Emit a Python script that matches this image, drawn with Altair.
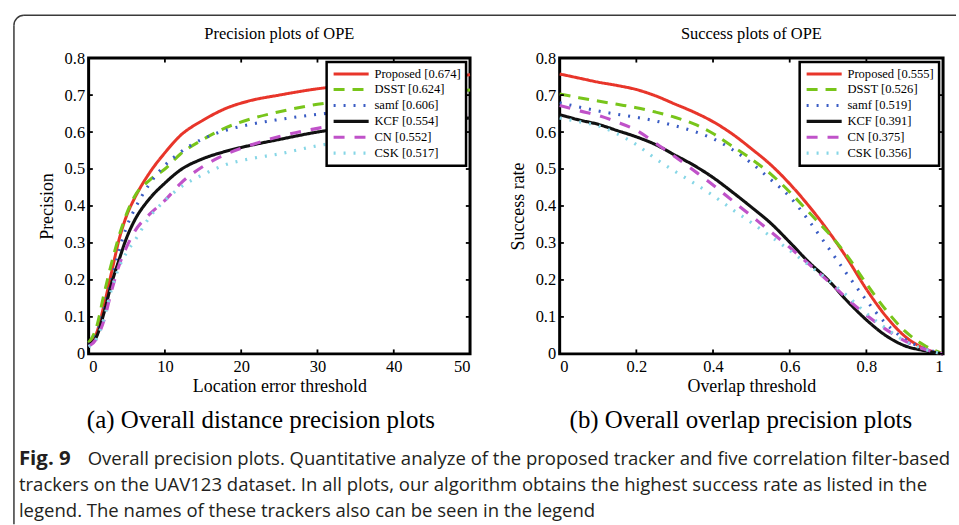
import math
import altair as alt
import pandas as pd

# ---------------- data ----------------
trackers = ["Proposed", "DSST", "samf", "KCF", "CN", "CSK"]
prec_scores = ["0.674", "0.624", "0.606", "0.554", "0.552", "0.517"]
succ_scores = ["0.555", "0.526", "0.519", "0.391", "0.375", "0.356"]

prec_x = [0, 1, 2, 3, 4, 5, 6, 8, 10, 12, 15, 18, 21, 25, 30, 35, 40, 45, 50]
prec_proposed = [0.03, 0.055, 0.13, 0.22, 0.31, 0.375, 0.42, 0.49, 0.544, 0.59, 0.632, 0.664, 0.684, 0.70, 0.717, 0.728, 0.738, 0.747, 0.755]
prec_dsst = [0.03, 0.07, 0.16, 0.245, 0.32, 0.38, 0.425, 0.47, 0.50, 0.54, 0.58, 0.612, 0.634, 0.655, 0.675, 0.688, 0.698, 0.706, 0.714]
prec_samf = [0.025, 0.05, 0.12, 0.20, 0.28, 0.345, 0.39, 0.46, 0.51, 0.545, 0.582, 0.605, 0.62, 0.634, 0.648, 0.657, 0.663, 0.668, 0.672]
prec_kcf = [0.025, 0.045, 0.11, 0.19, 0.255, 0.315, 0.36, 0.42, 0.462, 0.497, 0.528, 0.548, 0.563, 0.58, 0.60, 0.614, 0.624, 0.632, 0.638]
prec_cn = [0.02, 0.04, 0.09, 0.17, 0.24, 0.29, 0.33, 0.378, 0.415, 0.46, 0.507, 0.54, 0.563, 0.588, 0.61, 0.625, 0.635, 0.642, 0.648]
prec_csk = [0.02, 0.04, 0.095, 0.175, 0.235, 0.275, 0.305, 0.37, 0.415, 0.45, 0.485, 0.512, 0.527, 0.541, 0.563, 0.578, 0.588, 0.595, 0.60]

succ_x = [0, 0.05, 0.1, 0.15, 0.2, 0.25, 0.3, 0.35, 0.4, 0.45, 0.5, 0.55, 0.6, 0.65, 0.7, 0.75, 0.8, 0.85, 0.9, 0.95, 1.0]
succ_proposed = [0.757, 0.746, 0.735, 0.726, 0.715, 0.698, 0.676, 0.654, 0.628, 0.595, 0.555, 0.512, 0.46, 0.40, 0.333, 0.258, 0.175, 0.103, 0.048, 0.015, 0.0]
succ_dsst = [0.703, 0.693, 0.684, 0.675, 0.666, 0.654, 0.64, 0.622, 0.596, 0.562, 0.527, 0.487, 0.438, 0.383, 0.328, 0.265, 0.19, 0.12, 0.062, 0.024, 0.0]
succ_samf = [0.679, 0.668, 0.657, 0.648, 0.64, 0.63, 0.617, 0.602, 0.582, 0.553, 0.516, 0.472, 0.425, 0.36, 0.288, 0.215, 0.145, 0.083, 0.04, 0.015, 0.0]
succ_kcf = [0.647, 0.633, 0.621, 0.604, 0.587, 0.566, 0.538, 0.51, 0.477, 0.438, 0.397, 0.354, 0.302, 0.248, 0.20, 0.143, 0.092, 0.05, 0.022, 0.009, 0.0]
succ_cn = [0.672, 0.658, 0.645, 0.627, 0.605, 0.57, 0.534, 0.496, 0.457, 0.415, 0.373, 0.331, 0.288, 0.243, 0.197, 0.149, 0.105, 0.067, 0.035, 0.013, 0.0]
succ_csk = [0.638, 0.628, 0.617, 0.595, 0.566, 0.528, 0.494, 0.462, 0.428, 0.391, 0.355, 0.318, 0.28, 0.24, 0.20, 0.157, 0.11, 0.07, 0.035, 0.013, 0.0]

prec_xticks = [0, 10, 20, 30, 40, 50]
succ_xticks = [0, 0.2, 0.4, 0.6, 0.8, 1]
yticks = [0, 0.1, 0.2, 0.3, 0.4, 0.5, 0.6, 0.7, 0.8]

titles = ["Precision plots of OPE", "Success plots of OPE"]
xtitles = ["Location error threshold", "Overlap threshold"]
ytitles = ["Precision", "Success rate"]
sub_captions = ["(a) Overall distance precision plots", "(b) Overall overlap precision plots"]
caption_bold = "Fig. 9"
caption_lines = [
    "Overall precision plots. Quantitative analyze of the proposed tracker and five correlation filter-based",
    "trackers on the UAV123 dataset. In all plots, our algorithm obtains the highest success rate as listed in the",
    "legend. The names of these trackers also can be seen in the legend",
]

# ---------------- styles ----------------
colors = ["#e8352a", "#78c51a", "#3a5cc4", "#111111", "#c052c9", "#86d6e6"]
dashes = [[1, 0], [11, 8], [2, 8], [1, 0], [11, 10], [2, 8]]
widths = [3.0, 3.2, 2.4, 3.0, 3.4, 2.2]
SERIF = "Liberation Serif"
SANS = "Open Sans"
W1, W2, H = 383, 385, 297


def long_df(xs, series_list, labels):
    rows = []
    for lab, ys in zip(labels, series_list):
        for xv, yv in zip(xs, ys):
            rows.append({"x": xv, "y": yv, "series": lab})
    return pd.DataFrame(rows)


def panel(xs, series_list, scores, xdom, xticks, xfmt, xtitle, ytitle, title, width, tick_x):
    labels = [f"{t} [{s}]" for t, s in zip(trackers, scores)]
    df = long_df(xs, series_list, labels)
    xscale = alt.Scale(domain=xdom, nice=False, zero=False)
    yscale = alt.Scale(domain=[0, 0.8], nice=False)
    xaxis = alt.Axis(values=xticks, format=xfmt, title=xtitle, labelPadding=5, titlePadding=2,
                     labelOverlap=False, tickCount=len(xticks))
    yaxis = alt.Axis(values=yticks, format="~g", title=ytitle, labelPadding=4, titlePadding=8,
                     labelOverlap=False, tickCount=len(yticks))
    X = lambda: alt.X("x:Q", scale=xscale, axis=xaxis)
    Y = lambda: alt.Y("y:Q", scale=yscale, axis=yaxis)
    lines = alt.Chart(df).mark_line(interpolate="monotone").encode(
        x=X(), y=Y(),
        color=alt.Color("series:N", scale=alt.Scale(domain=labels, range=colors), legend=alt.Legend(title=None)),
        strokeDash=alt.StrokeDash("series:N", scale=alt.Scale(domain=labels, range=dashes), legend=alt.Legend(title=None)),
        strokeWidth=alt.StrokeWidth("series:N", scale=alt.Scale(domain=labels, range=widths), legend=alt.Legend(title=None)),
    )
    ydf = pd.DataFrame({"y": yticks})
    xdf = pd.DataFrame({"x": xticks})
    tk = dict(color="black", strokeWidth=1.8)
    t_left = alt.Chart(ydf).mark_rule(**tk).encode(y=Y(), x=alt.datum(xdom[0]), x2=alt.datum(xdom[0] + tick_x))
    t_right = alt.Chart(ydf).mark_rule(**tk).encode(y=Y(), x=alt.datum(xdom[1]), x2=alt.datum(xdom[1] - tick_x))
    t_bot = alt.Chart(xdf).mark_rule(**tk).encode(x=X(), y=alt.datum(0), y2=alt.datum(0.012))
    t_top = alt.Chart(xdf).mark_rule(**tk).encode(x=X(), y=alt.datum(0.8), y2=alt.datum(0.788))
    return alt.layer(lines, t_left, t_right, t_bot, t_top).properties(
        width=width, height=H, title=alt.TitleParams(text=title, frame="group"))


# ---------- decoration column (1 px wide, origin 91 px left of the left plot area) ----------
one = pd.DataFrame({"k": [0]})
FRAME = "#3a3a3a"
frame_left = alt.Chart(one).mark_rule(color=FRAME, strokeWidth=1.5).encode(
    x=alt.value(16), y=alt.value(-33), y2=alt.value(468))
frame_top = alt.Chart(one).mark_rule(color=FRAME, strokeWidth=1.5).encode(
    x=alt.value(26), x2=alt.value(962), y=alt.value(-43))
frame_arc = alt.Chart(one).mark_arc(color=FRAME, radius=10.75, radius2=9.25,
                                    theta=3 * math.pi / 2, theta2=2 * math.pi).encode(
    x=alt.value(26), y=alt.value(-33))
sub_style = dict(font=SERIF, fontSize=25, align="center", baseline="middle", color="black")
sub_a = alt.Chart(one).mark_text(text=sub_captions[0], **sub_style).encode(x=alt.value(264), y=alt.value(363))
sub_b = alt.Chart(one).mark_text(text=sub_captions[1], **sub_style).encode(x=alt.value(746), y=alt.value(363))
cap_style = dict(font=SANS, fontSize=18.6, align="left", baseline="middle", color="#231f20")
cap_bold = alt.Chart(one).mark_text(text=caption_bold, fontWeight="bold", font=SANS, fontSize=20.5,
                                    align="left", baseline="middle", color="#231f20").encode(
    x=alt.value(21), y=alt.value(403))
cap1 = alt.Chart(one).mark_text(text=caption_lines[0], **cap_style).encode(x=alt.value(90), y=alt.value(403))
cap2 = alt.Chart(one).mark_text(text=caption_lines[1], **cap_style).encode(x=alt.value(21), y=alt.value(429))
cap3 = alt.Chart(one).mark_text(text=caption_lines[2], **cap_style).encode(x=alt.value(21), y=alt.value(455))
deco = alt.layer(frame_left, frame_top, frame_arc, sub_a, sub_b, cap_bold, cap1, cap2, cap3).properties(
    width=1, height=1, view=alt.ViewBackground(stroke="transparent"))

left = panel(prec_x, [prec_proposed, prec_dsst, prec_samf, prec_kcf, prec_cn, prec_csk], prec_scores,
             [0, 50], prec_xticks, "d", xtitles[0], ytitles[0], titles[0], W1, 0.55)
right = panel(succ_x, [succ_proposed, succ_dsst, succ_samf, succ_kcf, succ_cn, succ_csk], succ_scores,
              [0, 1], succ_xticks, "~g", xtitles[1], ytitles[1], titles[1], W2, 0.011)

chart = alt.hconcat(deco, left, right, spacing=90, bounds="flush").resolve_scale(
    color="independent", strokeDash="independent", strokeWidth="independent"
).properties(
    padding={"left": -4, "top": 11.25, "right": 0, "bottom": 0}, background="white"
).configure_view(
    stroke="black", strokeWidth=3
).configure_axis(
    domain=False, ticks=False, grid=False,
    labelFont=SERIF, labelFontSize=16.5, labelColor="black",
    titleFont=SERIF, titleFontSize=18, titleFontWeight="normal", titleColor="black",
).configure_title(
    font=SERIF, fontSize=16.5, fontWeight="normal", color="black", offset=8, anchor="middle"
).configure_legend(
    orient="top-right", offset=4, padding=5, fillColor="white", strokeColor="black", strokeWidth=2.5,
    labelFont=SERIF, labelFontSize=12.6, labelColor="black", labelLimit=300,
    symbolType="M-1,0H5.4", symbolSize=121, labelOffset=28, rowPadding=1, symbolStrokeWidth=2.8,
)

chart.save("out.html", embed_options={"renderer": "svg", "actions": False})
